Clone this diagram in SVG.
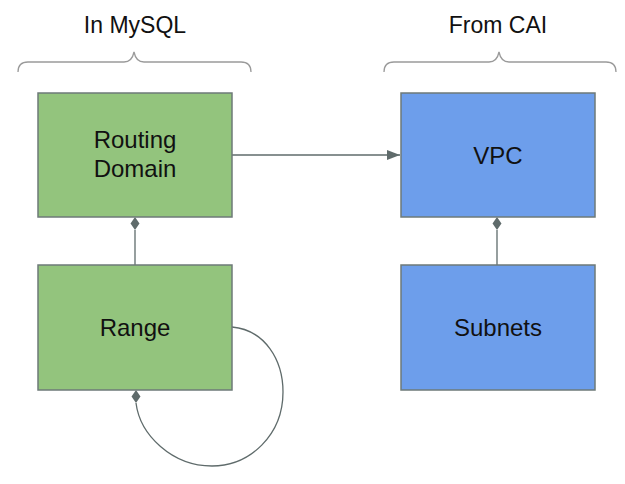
<svg xmlns="http://www.w3.org/2000/svg" width="625" height="484" viewBox="0 0 625 484">
<style>
.t{font-family:"Liberation Sans",Arial,sans-serif;font-size:24px;fill:#111;text-anchor:middle}
.h{font-family:"Liberation Sans",Arial,sans-serif;font-size:23px;fill:#111;text-anchor:middle}
.g{fill:#93c47d;stroke:#6e7a78;stroke-width:1.5}
.b{fill:#6d9eeb;stroke:#6e7a78;stroke-width:1.5}
.c{fill:none;stroke:#5f6b6b;stroke-width:1.3}
.br{fill:none;stroke:#9a9a9a;stroke-width:1.3}
</style>
<defs>
<marker id="arr" markerWidth="14" markerHeight="10" refX="13" refY="5" orient="auto" markerUnits="userSpaceOnUse">
<path d="M0,0 L13,5 L0,10 Z" fill="#5f6b6b"/>
</marker>
<marker id="dia" markerWidth="10" markerHeight="14" refX="5" refY="1" orient="0" markerUnits="userSpaceOnUse">
<path d="M5,0 L9.5,6.5 L5,13 L0.5,6.5 Z" fill="#5f6b6b"/>
</marker>
</defs>
<g id="labels">
<text class="h" x="135" y="33">In MySQL</text>
<text class="h" x="498" y="33">From CAI</text>
<path class="br" d="M18,72 Q18,62 28,62 L124,62 Q132,62 134,52 Q136,62 144,62 L241,62 Q251,62 251,72"/>
<path class="br" d="M384,72 Q384,62 394,62 L489,62 Q497,62 499,52 Q501,62 509,62 L606,62 Q616,62 616,72"/>
</g>
<g id="connectors">
<path class="c" d="M232,155 L400,155" marker-end="url(#arr)"/>
<path class="c" d="M135,265 L135,230"/>
<path d="M135,217 L139.5,223.5 L135,230 L130.5,223.5 Z" fill="#5f6b6b"/>
<path class="c" d="M497,265 L497,230"/>
<path d="M497,217 L501.5,223.5 L497,230 L492.5,223.5 Z" fill="#5f6b6b"/>
<path class="c" d="M232,327 C265,330 283,360 283,392 C283,435 250,466 212,466 C172,466 140,435 136,403"/>
<path d="M136,390 L140.5,396.5 L136,403 L131.5,396.5 Z" fill="#5f6b6b"/>
</g>
<g id="routing-domain">
<rect class="g" x="38" y="93" width="194" height="124"/>
<text class="t" x="135" y="148">Routing</text>
<text class="t" x="135" y="177">Domain</text>
</g>
<g id="range">
<rect class="g" x="38" y="265" width="194" height="125"/>
<text class="t" x="135" y="336">Range</text>
</g>
<g id="vpc">
<rect class="b" x="401" y="93" width="194" height="124"/>
<text class="t" x="498" y="164">VPC</text>
</g>
<g id="subnets">
<rect class="b" x="401" y="265" width="194" height="125"/>
<text class="t" x="498" y="336">Subnets</text>
</g>
</svg>
